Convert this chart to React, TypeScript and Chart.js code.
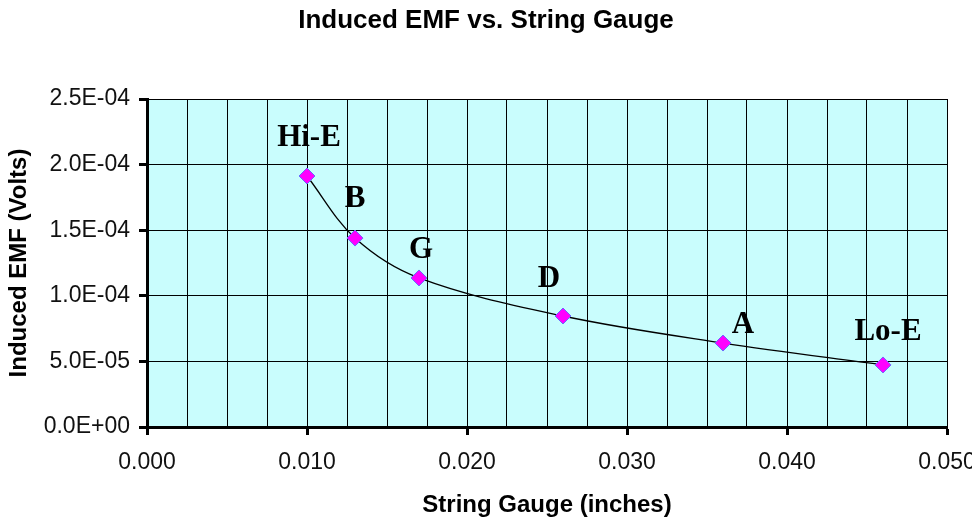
import React, { useEffect, useRef } from 'react';
import { Chart, registerables } from 'chart.js';

Chart.register(...registerables);

// ---- data ----
const stringNames = ['Hi-E', 'B', 'G', 'D', 'A', 'Lo-E'];
const gauges = [0.010, 0.013, 0.017, 0.026, 0.036, 0.046];
const emfValues = [1.913e-4, 1.44e-4, 1.136e-4, 8.46e-5, 6.4e-5, 4.73e-5];
const xTickLabels = ['0.000', '0.010', '0.020', '0.030', '0.040', '0.050'];
const yTickValues = [0, 5e-5, 1e-4, 1.5e-4, 2e-4, 2.5e-4];
const yTickLabels = ['0.0E+00', '5.0E-05', '1.0E-04', '1.5E-04', '2.0E-04', '2.5E-04'];
const xGridStep = 0.0025;
const xMax = 0.05;

// label offsets in pixels relative to each point (style, not data)
const labelOffsets = [[2, -38], [0, -39], [2, -28], [-14, -37], [20, -18], [5, -33]];

const TITLE = 'Induced EMF vs. String Gauge';
const X_TITLE = 'String Gauge (inches)';
const Y_TITLE = 'Induced EMF (Volts)';

const bgPlugin = {
  id: 'plotBg',
  beforeDraw(chart: any) {
    const { ctx, chartArea } = chart;
    ctx.save();
    ctx.fillStyle = '#ffffff';
    ctx.fillRect(0, 0, chart.width, chart.height);
    ctx.fillStyle = '#c9fdfd';
    ctx.fillRect(chartArea.left, chartArea.top, chartArea.right - chartArea.left, chartArea.bottom - chartArea.top);
    ctx.restore();
  },
};

const textPlugin = {
  id: 'texts',
  afterDatasetsDraw(chart: any) {
    const { ctx } = chart;
    const meta = chart.getDatasetMeta(0);
    ctx.save();
    ctx.fillStyle = '#000';
    ctx.font = 'bold 31px "Liberation Serif", "Times New Roman", serif';
    ctx.textAlign = 'center';
    ctx.textBaseline = 'middle';
    meta.data.forEach((pt: any, i: number) => {
      const [dx, dy] = labelOffsets[i];
      ctx.fillText(stringNames[i], pt.x + dx, pt.y + dy);
    });
    ctx.restore();
  },
  afterDraw(chart: any) {
    const { ctx, chartArea } = chart;
    ctx.save();
    ctx.fillStyle = '#000';
    ctx.textAlign = 'center';
    ctx.textBaseline = 'middle';
    ctx.font = 'bold 26px "Liberation Sans", Arial, sans-serif';
    ctx.fillText(TITLE, chart.width / 2, 21);
    ctx.font = 'bold 24px "Liberation Sans", Arial, sans-serif';
    ctx.fillText(X_TITLE, (chartArea.left + chartArea.right) / 2, 505);
    ctx.translate(19, (chartArea.top + chartArea.bottom) / 2);
    ctx.rotate(-Math.PI / 2);
    ctx.fillText(Y_TITLE, 0, 0);
    ctx.restore();
  },
};

export default function App() {
  const ref = useRef<HTMLCanvasElement>(null);

  useEffect(() => {
    if (!ref.current) return;
    const points = gauges.map((g, i) => ({ x: g, y: emfValues[i] }));
    const chart = new Chart(ref.current, {
      type: 'scatter',
      data: {
        datasets: [
          {
            data: points,
            showLine: true,
            tension: 0.35,
            borderColor: '#000',
            borderWidth: 1.3,
            pointStyle: 'rectRot',
            pointRadius: 8,
            pointBackgroundColor: '#ff00ff',
            pointBorderColor: '#6a6aff',
            pointBorderWidth: 1,
          } as any,
        ],
      },
      options: {
        animation: false,
        responsive: false,
        devicePixelRatio: 1,
        layout: { padding: { top: 99, right: 25, left: 0, bottom: 0 } },
        plugins: {
          legend: { display: false },
          tooltip: { enabled: false },
          title: { display: false },
        },
        scales: {
          x: {
            type: 'linear',
            min: 0,
            max: xMax,
            afterBuildTicks(scale: any) {
              const ticks = [];
              const n = Math.round(xMax / xGridStep);
              for (let k = 0; k <= n; k++) ticks.push({ value: k * xGridStep });
              scale.ticks = ticks;
            },
            afterFit(scale: any) {
              scale.height = 94;
              scale.paddingLeft = 0;
              scale.paddingRight = 0;
            },
            grid: {
              color: '#000',
              lineWidth: 1,
              drawTicks: true,
              tickLength: 8,
              tickWidth: 3,
              tickColor: (c: any) => (c.index % 4 === 0 ? '#000' : 'rgba(0,0,0,0)'),
            },
            border: { display: true, color: '#000', width: 3 },
            ticks: {
              autoSkip: false,
              maxRotation: 0,
              minRotation: 0,
              padding: 14,
              color: '#111',
              font: { family: '"Liberation Sans", Arial, sans-serif', size: 23 },
              callback: (_v: any, index: number) => (index % 4 === 0 ? xTickLabels[index / 4] : ''),
            },
          },
          y: {
            type: 'linear',
            min: 0,
            max: yTickValues[yTickValues.length - 1],
            afterBuildTicks(scale: any) {
              scale.ticks = yTickValues.map((v) => ({ value: v }));
            },
            afterFit(scale: any) {
              scale.width = 147;
              scale.paddingTop = 0;
              scale.paddingBottom = 0;
            },
            grid: {
              color: '#000',
              lineWidth: 1,
              drawTicks: true,
              tickLength: 8,
              tickWidth: 3,
              tickColor: '#000',
            },
            border: { display: true, color: '#000', width: 3 },
            ticks: {
              padding: 9,
              color: '#111',
              font: { family: '"Liberation Sans", Arial, sans-serif', size: 23 },
              callback: (_v: any, index: number) => yTickLabels[index],
            },
          },
        },
      } as any,
      plugins: [bgPlugin, textPlugin],
    });
    return () => chart.destroy();
  }, []);

  return (
    <div style={{ position: 'fixed', left: 0, top: 0, width: 972, height: 521, background: '#fff' }}>
      <canvas ref={ref} width={972} height={521} style={{ display: 'block', width: 972, height: 521 }} />
    </div>
  );
}
